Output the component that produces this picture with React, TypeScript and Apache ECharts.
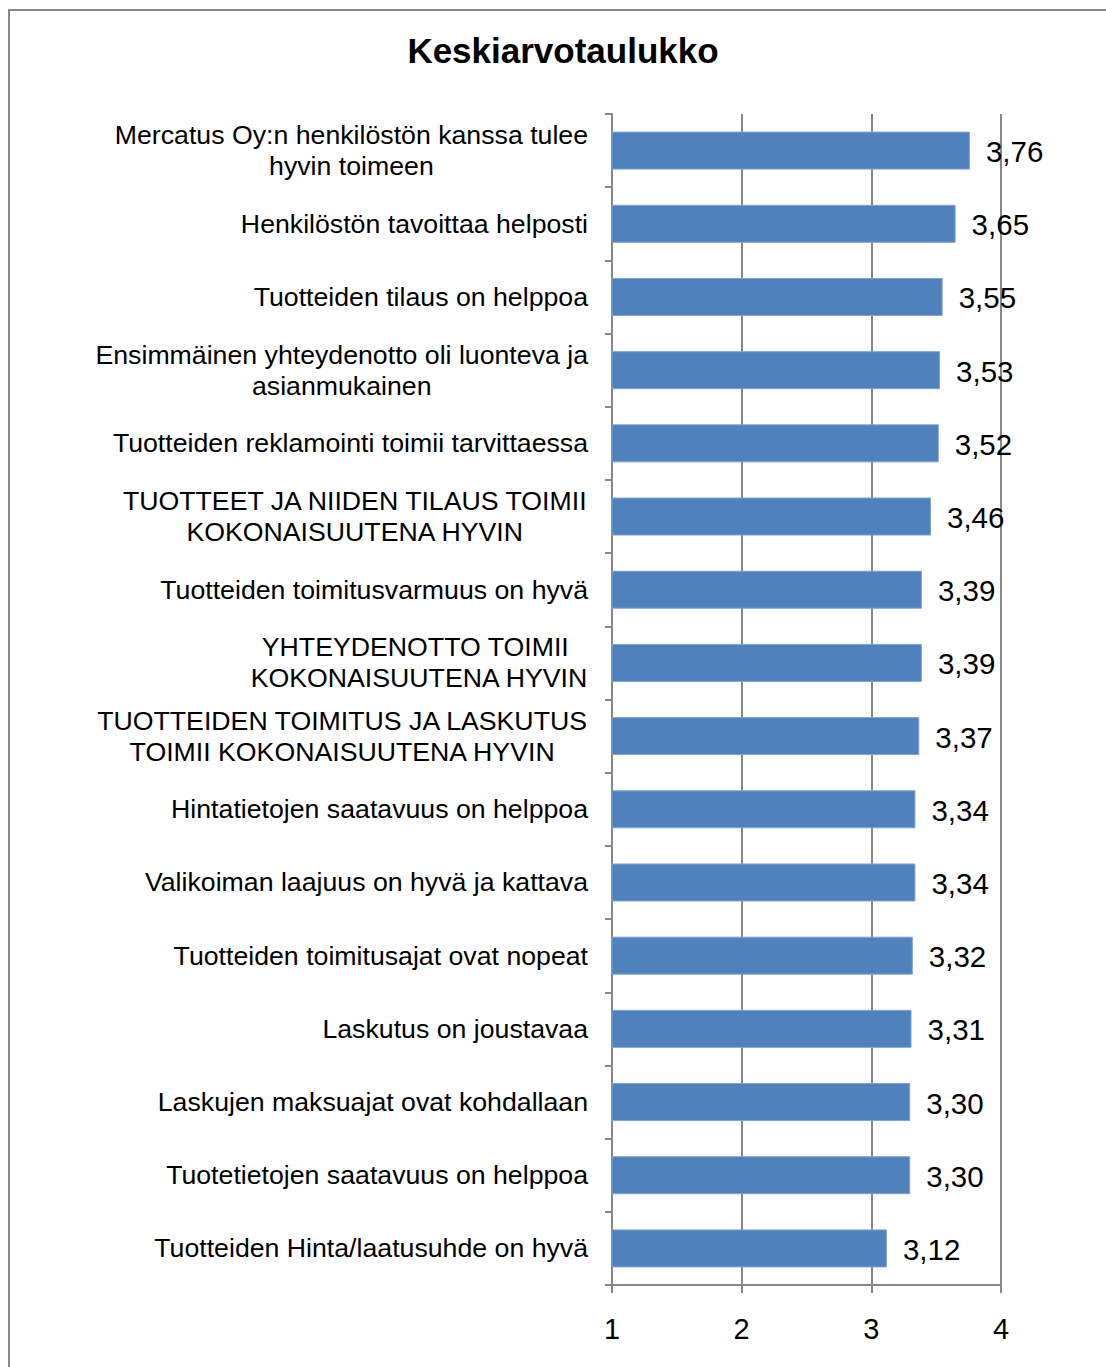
import React, { useEffect, useRef } from "react";
import * as echarts from "echarts";

const title = "Keskiarvotaulukko";
const categories: string[] = [
  "Mercatus Oy:n henkilöstön kanssa tulee\nhyvin toimeen",
  "Henkilöstön tavoittaa helposti",
  "Tuotteiden tilaus on helppoa",
  "Ensimmäinen yhteydenotto oli luonteva ja\nasianmukainen",
  "Tuotteiden reklamointi toimii tarvittaessa",
  "TUOTTEET JA NIIDEN TILAUS TOIMII\nKOKONAISUUTENA HYVIN",
  "Tuotteiden toimitusvarmuus on hyvä",
  "YHTEYDENOTTO TOIMII \nKOKONAISUUTENA HYVIN",
  "TUOTTEIDEN TOIMITUS JA LASKUTUS\nTOIMII KOKONAISUUTENA HYVIN",
  "Hintatietojen saatavuus on helppoa",
  "Valikoiman laajuus on hyvä ja kattava",
  "Tuotteiden toimitusajat ovat nopeat",
  "Laskutus on joustavaa",
  "Laskujen maksuajat ovat kohdallaan",
  "Tuotetietojen saatavuus on helppoa",
  "Tuotteiden Hinta/laatusuhde on hyvä",
];
const values: number[] = [
  3.76, 3.65, 3.55, 3.53, 3.52, 3.46, 3.39, 3.39, 3.37, 3.34, 3.34, 3.32, 3.31,
  3.3, 3.3, 3.12,
];
const xMin = 1;
const xMax = 4;
const xInterval = 1;

const FONT = '"Liberation Sans", Arial, sans-serif';
const GRAY = "#878787";

export default function App() {
  const ref = useRef<HTMLDivElement>(null);
  useEffect(() => {
    if (!ref.current) return;
    const chart = echarts.init(ref.current, undefined, { renderer: "svg" });
    chart.setOption({
      animation: false,
      backgroundColor: "#ffffff",
      textStyle: { fontFamily: FONT },
      title: {
        text: title,
        left: 558,
        top: 28,
        textAlign: "center",
        textStyle: {
          fontFamily: FONT,
          fontSize: 35,
          fontWeight: "bold",
          color: "#000",
        },
      },
      graphic: [
        {
          type: "rect",
          shape: { x: 9, y: 10, width: 1200, height: 1400 },
          style: { fill: "none", stroke: GRAY, lineWidth: 2 },
          silent: true,
        },
      ],
      grid: { left: 612, right: 105, top: 114, bottom: 82 },
      xAxis: {
        type: "value",
        min: xMin,
        max: xMax,
        interval: xInterval,
        axisLine: { show: true, lineStyle: { color: GRAY, width: 2 } },
        axisTick: { show: true, length: 8, lineStyle: { color: GRAY, width: 2 } },
        splitLine: { show: true, lineStyle: { color: GRAY, width: 2 } },
        axisLabel: {
          color: "#000",
          fontSize: 29,
          fontFamily: FONT,
          margin: 29,
        },
      },
      yAxis: {
        type: "category",
        data: categories,
        inverse: true,
        axisLine: { show: true, lineStyle: { color: GRAY, width: 2 } },
        axisTick: {
          show: true,
          length: 7,
          alignWithLabel: false,
          lineStyle: { color: GRAY, width: 2 },
        },
        axisLabel: {
          color: "#000",
          fontSize: 26.7,
          fontFamily: FONT,
          margin: 24,
          align: "right",
          lineHeight: 31,
          formatter: (v: string) =>
            v
              .split("\n")
              .map((l) => "{c|" + l + "}")
              .join("\n"),
          rich: {
            c: {
              align: "center",
              fontSize: 26.7,
              fontFamily: FONT,
              color: "#000",
              lineHeight: 31,
            },
          },
        },
      },
      series: [
        {
          type: "bar",
          data: values,
          barWidth: 38,
          itemStyle: {
            color: "#4F81BD",
            borderColor: "#7FA3D3",
            borderWidth: 1,
          },
          label: {
            show: true,
            position: "right",
            distance: 16,
            color: "#000",
            fontSize: 29.5,
            fontFamily: FONT,
            offset: [0, 1],
            formatter: (p: any) => Number(p.value).toFixed(2).replace(".", ","),
          },
        },
      ],
    });
    return () => chart.dispose();
  }, []);
  return (
    <div
      ref={ref}
      style={{ position: "fixed", left: 0, top: 0, width: 1106, height: 1367 }}
    />
  );
}
